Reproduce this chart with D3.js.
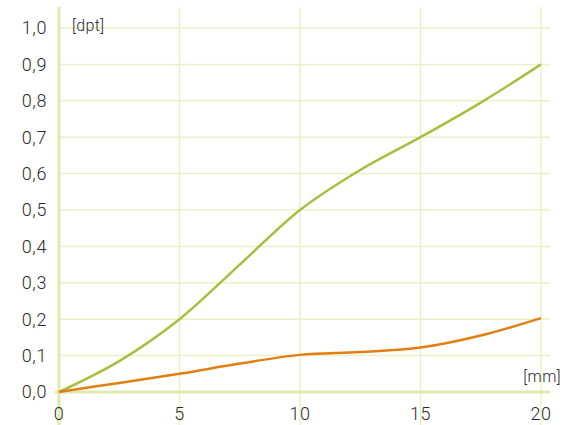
<!DOCTYPE html>
<html><head><meta charset="utf-8">
<script src="https://cdn.jsdelivr.net/npm/d3@7"></script>
<style>body{margin:0;background:#fff}svg{display:block}text{font-family:Roboto,"Noto Sans",sans-serif;font-weight:300;fill:#2b2b2b}</style>
</head><body>
<svg id="c" width="575" height="425"></svg>
<script>
const xValues = [0, 2.5, 5, 7.5, 10, 12.5, 15, 17.5, 20];
const greenValues = [0, 0.085, 0.2, 0.35, 0.5, 0.61, 0.7, 0.795, 0.9];
const orangeValues = [0, 0.025, 0.05, 0.078, 0.102, 0.11, 0.122, 0.155, 0.203];
const xTicks = [0, 5, 10, 15, 20];
const yTicks = [0, 0.1, 0.2, 0.3, 0.4, 0.5, 0.6, 0.7, 0.8, 0.9, 1.0];
const yLabels = ["0,0","0,1","0,2","0,3","0,4","0,5","0,6","0,7","0,8","0,9","1,0"];

const svg = d3.select("#c");
const x = d3.scaleLinear().domain([0, 20]).range([59, 541]);
const y = d3.scaleLinear().domain([0, 1]).range([392, 28]);
const gridColor = "#eaf0c6";
const axisColor = "#e0e9ae";

svg.append("g").selectAll("line").data(yTicks.filter(d => d > 0)).join("line")
  .attr("x1", 59).attr("x2", 550).attr("y1", d => y(d)).attr("y2", d => y(d))
  .attr("stroke", gridColor).attr("stroke-width", 1.5);
svg.append("g").selectAll("line").data(xTicks.filter(d => d > 0)).join("line")
  .attr("x1", d => x(d)).attr("x2", d => x(d)).attr("y1", 7).attr("y2", 425)
  .attr("stroke", gridColor).attr("stroke-width", 1.5);
svg.append("line").attr("x1", 55).attr("x2", 550).attr("y1", y(0)).attr("y2", y(0))
  .attr("stroke", axisColor).attr("stroke-width", 3);
svg.append("line").attr("x1", x(0)).attr("x2", x(0)).attr("y1", 7).attr("y2", 425)
  .attr("stroke", axisColor).attr("stroke-width", 3);

svg.append("g").selectAll("text").data(yTicks).join("text")
  .attr("x", 47).attr("y", d => y(d)).attr("dy", "0.36em").attr("text-anchor", "end")
  .attr("font-size", 18).attr("letter-spacing", 0.6).text((d, i) => yLabels[i]);
svg.append("g").selectAll("text").data(xTicks).join("text")
  .attr("x", d => x(d)).attr("y", 420).attr("text-anchor", "middle")
  .attr("font-size", 18).attr("letter-spacing", 0.6).text(d => d);

svg.append("text").attr("x", 72).attr("y", 31).attr("font-size", 16).attr("letter-spacing", 0.4).text("[dpt]");
svg.append("text").attr("x", 561).attr("y", 382).attr("text-anchor", "end").attr("font-size", 16).attr("letter-spacing", 0.4).text("[mm]");

const line = vals => d3.line().x((d, i) => x(xValues[i])).y(d => y(d)).curve(d3.curveCatmullRom.alpha(0.5))(vals);
svg.append("path").attr("d", line(greenValues)).attr("fill", "none").attr("stroke", "#a6c03e").attr("stroke-width", 2.5);
svg.append("path").attr("d", line(orangeValues)).attr("fill", "none").attr("stroke", "#e27f12").attr("stroke-width", 2.5);
</script>
</body></html>
